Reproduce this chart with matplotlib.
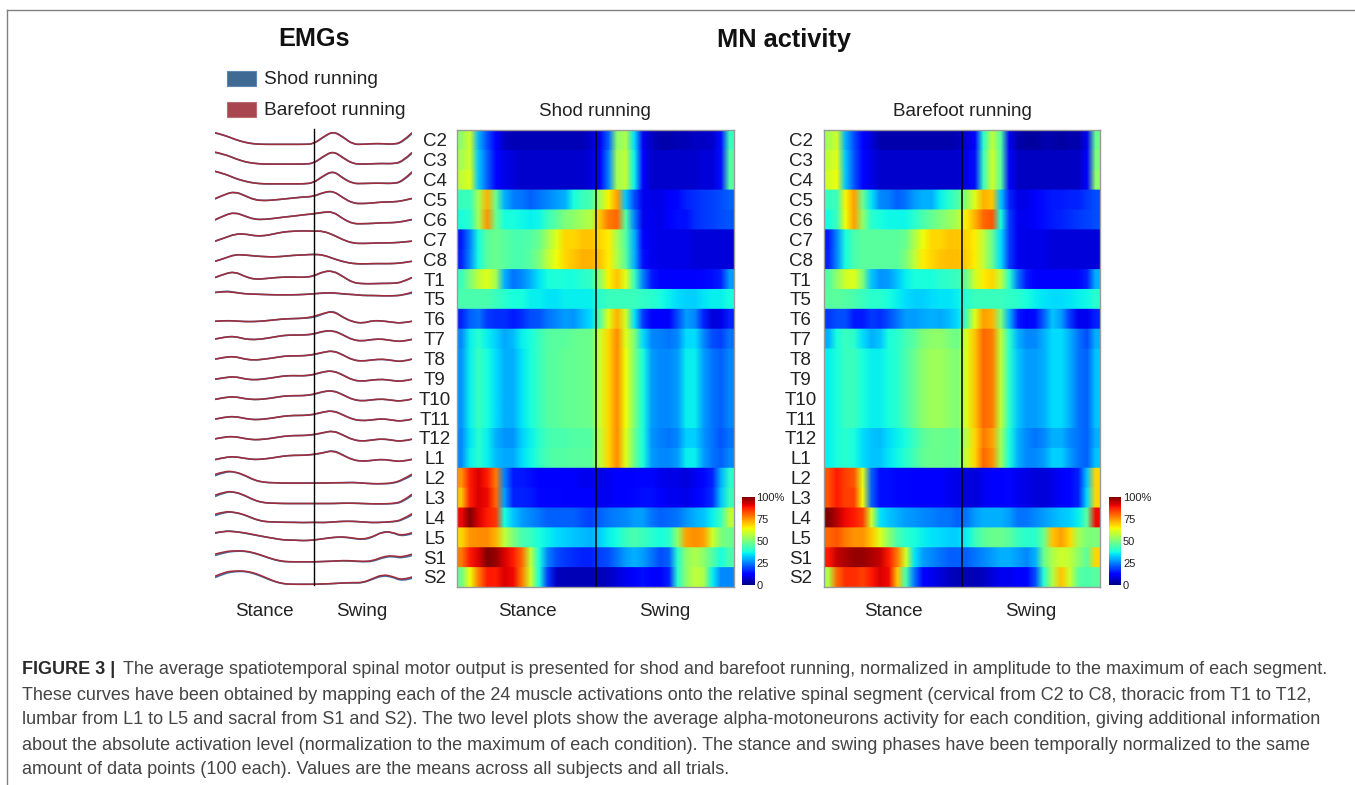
import numpy as np
import matplotlib
matplotlib.use("Agg")
from matplotlib import pyplot as plt
from matplotlib.patches import Rectangle, PathPatch
from matplotlib.path import Path
from matplotlib.lines import Line2D

W, H = 1355, 785

plt.rcParams['font.family'] = ['Liberation Sans', 'DejaVu Sans']

segments = ["C2", "C3", "C4", "C5", "C6", "C7", "C8", "T1", "T5", "T6", "T7", "T8",
            "T9", "T10", "T11", "T12", "L1", "L2", "L3", "L4", "L5", "S1", "S2"]

# MN activity, % of max, 16 columns for stance then 16 for swing
shod_mn = [
    [52, 60, 30, 20, 12, 6, 5, 5, 5, 5, 5, 5, 5, 5, 5, 7, 10, 22, 52, 56, 34, 10, 6, 4, 4, 5, 5, 6, 6, 7, 14, 42],
    [55, 60, 32, 22, 13, 9, 8, 7, 7, 7, 7, 7, 7, 7, 7, 8, 11, 25, 55, 58, 36, 11, 7, 7, 7, 7, 7, 7, 8, 8, 14, 45],
    [58, 62, 32, 22, 13, 9, 8, 7, 7, 7, 7, 7, 7, 7, 7, 8, 11, 25, 55, 58, 36, 11, 7, 7, 7, 7, 7, 7, 8, 8, 14, 45],
    [42, 42, 55, 72, 48, 30, 25, 24, 22, 24, 26, 28, 30, 38, 42, 44, 55, 65, 74, 32, 20, 10, 9, 9, 11, 13, 16, 17, 18, 19, 20, 22],
    [38, 40, 55, 75, 48, 38, 38, 37, 36, 37, 42, 46, 50, 52, 55, 57, 70, 78, 80, 45, 25, 10, 10, 9, 12, 14, 14, 17, 18, 19, 20, 21],
    [15, 25, 38, 46, 48, 46, 44, 44, 45, 48, 55, 62, 68, 68, 70, 70, 68, 66, 55, 45, 30, 12, 10, 9, 9, 9, 9, 8, 8, 8, 8, 8],
    [16, 26, 38, 46, 48, 46, 44, 44, 46, 50, 58, 64, 68, 70, 72, 72, 70, 66, 56, 46, 30, 14, 10, 9, 9, 9, 9, 8, 8, 8, 8, 8],
    [42, 50, 58, 62, 55, 30, 24, 26, 30, 35, 38, 39, 38, 38, 40, 41, 52, 65, 70, 62, 42, 25, 15, 12, 11, 11, 11, 12, 13, 14, 16, 28],
    [44, 44, 44, 44, 42, 40, 38, 38, 36, 36, 35, 35, 36, 36, 36, 36, 40, 42, 42, 42, 42, 41, 40, 38, 36, 34, 33, 33, 35, 36, 36, 38],
    [16, 22, 24, 18, 17, 17, 15, 17, 20, 21, 24, 26, 28, 27, 31, 34, 45, 62, 72, 60, 35, 18, 11, 11, 12, 20, 28, 26, 16, 8, 9, 16],
    [26, 36, 40, 36, 33, 29, 31, 36, 38, 42, 45, 46, 46, 47, 48, 48, 60, 68, 76, 62, 50, 34, 26, 25, 24, 26, 34, 34, 26, 20, 19, 24],
    [27, 36, 42, 38, 34, 30, 30, 35, 38, 42, 45, 46, 47, 47, 48, 48, 60, 68, 76, 64, 50, 38, 28, 26, 26, 28, 36, 36, 28, 24, 22, 26],
    [27, 36, 42, 38, 34, 30, 30, 35, 38, 42, 45, 46, 47, 47, 48, 48, 60, 68, 76, 64, 50, 38, 28, 26, 26, 28, 36, 36, 28, 24, 22, 26],
    [27, 36, 42, 38, 34, 30, 30, 35, 38, 42, 45, 46, 47, 47, 48, 48, 60, 68, 76, 64, 50, 38, 28, 26, 26, 28, 36, 36, 28, 24, 22, 26],
    [27, 36, 42, 38, 34, 30, 30, 35, 38, 42, 45, 46, 47, 47, 48, 48, 60, 68, 76, 64, 50, 38, 28, 26, 26, 28, 36, 36, 28, 24, 22, 26],
    [26, 35, 40, 36, 30, 27, 27, 33, 36, 40, 43, 44, 44, 45, 45, 45, 58, 68, 76, 62, 48, 38, 27, 25, 24, 26, 33, 33, 27, 24, 21, 24],
    [26, 36, 40, 36, 31, 29, 29, 34, 37, 41, 44, 45, 45, 46, 46, 46, 58, 68, 76, 62, 48, 38, 28, 26, 26, 28, 36, 36, 28, 24, 22, 26],
    [75, 88, 92, 88, 78, 25, 15, 15, 14, 12, 12, 12, 11, 11, 10, 10, 9, 10, 11, 11, 12, 13, 13, 10, 9, 9, 8, 10, 13, 16, 30, 40],
    [70, 88, 92, 90, 80, 28, 16, 16, 15, 13, 13, 13, 12, 12, 11, 11, 10, 10, 12, 12, 13, 14, 14, 11, 10, 10, 9, 11, 14, 17, 32, 42],
    [90, 100, 92, 88, 85, 38, 32, 28, 26, 24, 22, 22, 22, 22, 20, 19, 22, 24, 25, 26, 28, 28, 24, 22, 23, 24, 27, 30, 32, 36, 42, 58],
    [68, 75, 76, 76, 72, 58, 50, 44, 42, 38, 36, 34, 33, 32, 31, 30, 33, 36, 38, 42, 44, 42, 40, 38, 40, 52, 74, 76, 74, 60, 50, 48],
    [78, 88, 92, 100, 98, 92, 88, 80, 58, 38, 25, 20, 18, 17, 16, 16, 19, 20, 24, 28, 30, 28, 24, 20, 22, 40, 52, 56, 52, 45, 38, 44],
    [48, 64, 78, 88, 88, 92, 90, 78, 60, 38, 18, 6, 5, 5, 5, 5, 5, 6, 8, 10, 12, 14, 12, 12, 16, 40, 52, 58, 56, 36, 26, 26],
]

barefoot_mn = [
    [55, 60, 30, 20, 12, 8, 4, 4, 4, 4, 4, 4, 4, 4, 4, 5, 8, 12, 40, 58, 45, 10, 4, 3, 3, 4, 4, 3, 4, 4, 10, 48],
    [58, 62, 32, 21, 13, 9, 7, 7, 7, 7, 7, 7, 7, 7, 7, 7, 9, 14, 42, 60, 46, 11, 6, 6, 6, 6, 6, 6, 6, 6, 11, 50],
    [60, 64, 32, 21, 13, 9, 7, 7, 7, 7, 7, 7, 7, 7, 7, 7, 9, 14, 42, 60, 46, 11, 6, 6, 6, 6, 6, 6, 6, 6, 11, 52],
    [42, 42, 65, 74, 48, 35, 26, 25, 22, 24, 28, 30, 30, 36, 40, 44, 52, 62, 72, 70, 32, 16, 9, 9, 11, 14, 15, 15, 16, 16, 18, 20],
    [38, 42, 64, 74, 52, 40, 38, 37, 37, 37, 40, 44, 47, 50, 53, 56, 66, 72, 80, 82, 38, 18, 10, 10, 12, 14, 15, 16, 17, 18, 19, 20],
    [15, 26, 38, 44, 46, 46, 46, 46, 46, 48, 56, 64, 68, 68, 70, 70, 68, 66, 58, 48, 34, 18, 10, 9, 9, 9, 8, 8, 8, 8, 8, 8],
    [16, 26, 38, 44, 46, 46, 46, 46, 46, 50, 58, 66, 68, 70, 71, 71, 69, 66, 58, 48, 34, 18, 10, 9, 9, 9, 8, 8, 8, 8, 8, 8],
    [45, 52, 60, 62, 50, 32, 27, 28, 32, 36, 38, 38, 38, 40, 41, 42, 48, 60, 66, 68, 58, 40, 24, 15, 12, 11, 11, 11, 12, 13, 16, 30],
    [46, 46, 45, 44, 42, 40, 40, 38, 36, 34, 33, 33, 34, 35, 35, 36, 40, 42, 42, 42, 42, 41, 40, 38, 36, 35, 34, 34, 35, 36, 37, 40],
    [18, 20, 20, 15, 15, 18, 17, 20, 24, 28, 28, 29, 30, 29, 31, 34, 44, 62, 74, 72, 50, 30, 15, 12, 14, 22, 32, 28, 18, 10, 10, 16],
    [30, 38, 42, 40, 34, 30, 32, 38, 40, 43, 46, 50, 52, 52, 50, 48, 62, 70, 80, 78, 58, 40, 30, 26, 26, 30, 34, 34, 30, 24, 20, 30],
    [36, 38, 42, 42, 38, 36, 36, 38, 40, 44, 48, 52, 54, 54, 52, 50, 62, 70, 80, 78, 58, 40, 32, 28, 28, 30, 34, 34, 30, 24, 22, 32],
    [36, 38, 42, 42, 38, 36, 36, 38, 40, 44, 48, 52, 54, 54, 52, 50, 62, 70, 80, 78, 58, 40, 32, 28, 28, 30, 34, 34, 30, 24, 22, 32],
    [36, 38, 42, 42, 38, 36, 36, 38, 40, 44, 48, 52, 54, 54, 52, 50, 62, 70, 80, 78, 58, 40, 32, 28, 28, 30, 34, 34, 30, 24, 22, 32],
    [36, 38, 42, 42, 38, 36, 36, 38, 40, 44, 48, 52, 54, 54, 52, 50, 62, 70, 80, 78, 58, 40, 32, 28, 28, 30, 34, 34, 30, 24, 22, 32],
    [36, 38, 40, 38, 34, 32, 31, 34, 36, 38, 42, 46, 48, 48, 47, 47, 58, 68, 78, 74, 54, 38, 30, 26, 24, 26, 30, 30, 26, 24, 22, 30],
    [36, 38, 40, 38, 34, 32, 32, 35, 37, 40, 43, 47, 48, 48, 47, 47, 60, 68, 80, 76, 54, 38, 30, 26, 26, 28, 33, 33, 28, 24, 22, 32],
    [82, 88, 84, 82, 62, 22, 14, 14, 13, 13, 12, 12, 11, 11, 10, 9, 8, 8, 10, 11, 12, 13, 10, 9, 8, 8, 9, 11, 13, 16, 32, 68],
    [82, 88, 84, 84, 64, 22, 14, 14, 13, 13, 12, 12, 11, 11, 10, 9, 8, 8, 10, 11, 12, 13, 10, 9, 8, 8, 9, 11, 13, 16, 34, 68],
    [100, 95, 90, 88, 84, 60, 35, 32, 30, 28, 27, 26, 25, 24, 24, 22, 24, 28, 30, 30, 30, 28, 24, 24, 26, 28, 30, 32, 33, 36, 46, 90],
    [80, 82, 78, 75, 75, 70, 62, 52, 44, 40, 38, 36, 35, 34, 33, 33, 36, 42, 46, 48, 48, 46, 42, 40, 40, 48, 70, 74, 68, 55, 50, 50],
    [88, 94, 96, 98, 98, 96, 94, 88, 78, 60, 35, 28, 26, 24, 22, 22, 22, 24, 26, 28, 30, 30, 28, 26, 30, 48, 56, 60, 58, 52, 46, 68],
    [56, 80, 86, 86, 84, 88, 92, 90, 70, 44, 24, 12, 10, 8, 6, 5, 5, 5, 6, 8, 10, 10, 12, 12, 20, 40, 56, 70, 60, 46, 44, 46],
]

# EMG envelopes, height above each row's baseline, 21 samples over stance + swing
barefoot_emg = [
    [35, 27, 15, 6, 1, 0, 0, 0, 0, 0, 1, 23, 39, 21, 0, 0, 2, 2, 0, 6, 35],
    [36, 29, 17, 7, 2, 0, 0, 0, 0, 0, 2, 24, 39, 18, 1, 0, 1, 2, 1, 7, 35],
    [38, 30, 17, 8, 2, 0, 0, 0, 0, 0, 3, 25, 39, 16, 1, 1, 2, 2, 1, 7, 36],
    [15, 28, 36, 24, 11, 9, 11, 14, 17, 20, 22, 34, 38, 17, 1, 0, 2, 5, 5, 8, 16],
    [11, 25, 33, 22, 12, 12, 15, 19, 22, 26, 29, 34, 35, 13, -1, -1, 0, 2, 2, 5, 12],
    [6, 16, 27, 28, 22, 22, 28, 34, 36, 37, 36, 36, 25, 10, 0, -1, 0, 1, 1, 3, 6],
    [5, 14, 25, 24, 21, 19, 18, 20, 23, 24, 26, 24, 13, 4, -2, -3, -2, -2, -2, 0, 5],
    [16, 27, 33, 19, 10, 12, 15, 17, 17, 16, 20, 34, 35, 18, 0, -3, -3, -2, -2, 1, 16],
    [30, 33, 30, 26, 25, 24, 23, 23, 23, 24, 26, 29, 29, 26, 24, 21, 21, 20, 20, 21, 31],
    [3, 5, 4, 2, 2, 4, 7, 10, 11, 12, 17, 27, 33, 14, 1, -3, 5, 4, 0, -3, 3],
    [9, 15, 17, 9, 7, 10, 15, 20, 21, 21, 24, 33, 34, 21, 6, 3, 8, 9, 4, 1, 8],
    [8, 14, 16, 8, 5, 8, 12, 17, 18, 18, 22, 29, 33, 20, 5, 2, 6, 8, 4, 0, 8],
    [7, 12, 15, 8, 5, 8, 12, 17, 18, 17, 21, 30, 32, 19, 4, 1, 5, 7, 3, 0, 7],
    [6, 12, 14, 8, 5, 7, 11, 16, 17, 17, 21, 30, 32, 19, 5, 1, 5, 7, 3, 0, 7],
    [6, 12, 14, 8, 4, 6, 10, 15, 17, 17, 20, 28, 31, 18, 5, 1, 4, 7, 3, -1, 6],
    [6, 12, 13, 7, 3, 5, 9, 14, 16, 16, 19, 25, 30, 17, 3, -1, 3, 6, 2, -2, 5],
    [3, 10, 12, 7, 3, 5, 9, 14, 16, 16, 19, 24, 30, 16, 2, -2, 1, 4, 0, -3, 4],
    [18, 28, 26, 16, 1, -6, -7, -8, -8, -8, -8, -8, -7, -7, -6, -8, -10, -10, -8, 1, 19],
    [15, 26, 25, 15, 0, -8, -9, -10, -10, -10, -10, -10, -10, -9, -9, -10, -11, -11, -10, -5, 18],
    [17, 26, 23, 16, 3, -5, -6, -7, -7, -8, -7, -8, -6, -4, -4, -6, -8, -7, -5, 0, 19],
    [21, 26, 24, 21, 15, 9, 4, -1, -1, -3, -1, 3, 7, 9, 5, 1, 9, 23, 23, 11, 21],
    [16, 24, 26, 26, 20, 10, 0, -6, -7, -7, -7, -6, -5, -3, -4, -6, -4, 8, 12, 6, 16],
    [9, 22, 25, 25, 19, 7, -6, -14, -15, -15, -15, -14, -13, -11, -10, -10, 2, 14, 9, -3, 7],
]

shod_emg = [
    [34, 27, 15, 6, 1, 0, 0, 0, 0, 0, 1, 21, 39, 23, 0, 0, 2, 2, 0, 4, 32],
    [35, 29, 17, 7, 2, 0, 0, 0, 0, 0, 2, 22, 39, 20, 1, 0, 1, 2, 1, 5, 32],
    [37, 30, 17, 8, 2, 0, 0, 0, 0, 0, 3, 23, 39, 18, 1, 1, 2, 2, 1, 5, 33],
    [14, 28, 36, 25, 12, 9, 11, 14, 17, 20, 21, 33, 38, 18, 1, 0, 2, 5, 5, 8, 15],
    [10, 25, 33, 23, 12, 12, 15, 19, 22, 26, 28, 33, 35, 14, -1, -1, 0, 2, 2, 5, 11],
    [6, 16, 27, 28, 22, 22, 28, 34, 36, 37, 36, 36, 25, 10, 0, -1, 0, 1, 1, 3, 6],
    [5, 14, 25, 24, 21, 19, 18, 20, 23, 24, 26, 24, 13, 4, -2, -3, -2, -2, -2, 0, 5],
    [15, 27, 33, 19, 10, 12, 15, 17, 17, 16, 19, 33, 36, 19, 0, -3, -3, -2, -2, 1, 15],
    [30, 35, 31, 26, 25, 24, 23, 23, 23, 24, 26, 28, 29, 25, 24, 21, 21, 20, 20, 22, 28],
    [3, 5, 4, 2, 2, 4, 7, 10, 11, 12, 14, 25, 35, 15, 1, -3, 5, 4, 0, -3, 3],
    [9, 15, 17, 9, 7, 10, 15, 20, 21, 21, 23, 32, 35, 22, 6, 3, 8, 9, 4, 1, 8],
    [8, 14, 16, 8, 5, 8, 12, 17, 18, 18, 21, 28, 34, 21, 5, 2, 6, 8, 4, 0, 8],
    [7, 12, 15, 8, 5, 8, 12, 17, 18, 17, 20, 29, 33, 20, 4, 1, 5, 7, 3, 0, 7],
    [6, 12, 14, 8, 5, 7, 11, 16, 17, 17, 20, 29, 33, 20, 5, 1, 5, 7, 3, 0, 7],
    [6, 12, 14, 8, 4, 6, 10, 15, 17, 17, 19, 27, 32, 19, 5, 1, 4, 7, 3, -1, 6],
    [6, 12, 13, 7, 3, 5, 9, 14, 16, 16, 18, 24, 31, 18, 3, -1, 3, 6, 2, -2, 5],
    [3, 10, 12, 7, 3, 5, 9, 14, 16, 16, 18, 23, 32, 17, 2, -2, 1, 4, 0, -3, 4],
    [14, 26, 26, 15, 0, -6, -7, -8, -8, -8, -8, -8, -7, -7, -6, -8, -10, -10, -9, -1, 15],
    [11, 24, 25, 14, -1, -8, -9, -10, -10, -10, -10, -10, -10, -9, -9, -10, -11, -11, -11, -7, 14],
    [13, 24, 23, 15, 2, -5, -6, -7, -7, -8, -7, -8, -6, -4, -4, -6, -8, -7, -6, -2, 15],
    [19, 27, 25, 20, 14, 9, 4, -1, -1, -3, -1, 3, 7, 8, 4, 0, 7, 25, 22, 9, 18],
    [12, 21, 25, 25, 19, 9, -1, -7, -7, -7, -7, -6, -5, -4, -5, -7, -6, 5, 10, 3, 12],
    [5, 18, 23, 24, 17, 5, -7, -14, -15, -15, -15, -14, -13, -11, -11, -11, 0, 11, 7, -6, 3],
]

caption_bold = "FIGURE 3 |"
caption_lines = [
    "The average spatiotemporal spinal motor output is presented for shod and barefoot running, normalized in amplitude to the maximum of each segment.",
    "These curves have been obtained by mapping each of the 24 muscle activations onto the relative spinal segment (cervical from C2 to C8, thoracic from T1 to T12,",
    "lumbar from L1 to L5 and sacral from S1 and S2). The two level plots show the average alpha-motoneurons activity for each condition, giving additional information",
    "about the absolute activation level (normalization to the maximum of each condition). The stance and swing phases have been temporally normalized to the same",
    "amount of data points (100 each). Values are the means across all subjects and all trials.",
]


def axes_px(fig, left, top, right, bottom):
    return fig.add_axes([left / W, 1 - bottom / H, (right - left) / W, (bottom - top) / H])


def put_text(fig, x, y, s, **kw):
    kw.setdefault('ha', 'center')
    kw.setdefault('va', 'center')
    return fig.text(x / W, 1 - y / H, s, **kw)


def smooth_curve(xs, ys, color):
    # quadratic path through the samples so the envelopes don't look angular
    pts = np.column_stack([xs, ys])
    verts = [pts[0]]
    codes = [Path.MOVETO]
    for i in range(1, len(pts) - 1):
        end = pts[i + 1] if i == len(pts) - 2 else (pts[i] + pts[i + 1]) / 2
        verts += [pts[i], end]
        codes += [Path.CURVE3, Path.CURVE3]
    return PathPatch(Path(verts, codes), fill=False, edgecolor=color, lw=1.15)


def draw_map(fig, values, left, right, label_x, cbar_left):
    ax = axes_px(fig, left, 130, right, 587)
    grid = np.repeat(np.array(values, dtype=float), 20, axis=0)
    im = ax.imshow(grid, cmap='jet', vmin=0, vmax=100, aspect='auto',
                   interpolation='bilinear', extent=(0, 200, len(values), 0))
    ax.plot([100, 100], [0, len(values)], color='black', lw=1.1)
    ax.set_xlim(0, 200)
    ax.set_ylim(len(values), 0)
    ax.set_xticks([])
    ax.set_yticks([])
    for s in ax.spines.values():
        s.set_color('#9a9a9a')
        s.set_linewidth(1.0)

    for i, name in enumerate(segments):
        put_text(fig, label_x, 142 + i * 19.86, name, fontsize=13.5, color='#222222')

    cax = axes_px(fig, cbar_left, 497, cbar_left + 12.5, 585)
    cb = fig.colorbar(im, cax=cax, ticks=[0, 25, 50, 75, 100])
    cb.ax.set_yticklabels(['0', '25', '50', '75', '100%'], fontsize=8, color='#222222')
    cb.ax.tick_params(length=0, pad=1.5)
    cb.outline.set_visible(False)


fig = plt.figure(figsize=(W / 100, H / 100), dpi=100, facecolor='white')

# EMG column, one row unit is 59.3 height units
ax = axes_px(fig, 215, 124.56, 412, 599.04)
xs = np.linspace(0, 200, 21)
for i in range(len(segments)):
    ax.add_patch(smooth_curve(xs, i - np.array(shod_emg[i]) / 59.3, '#3d6f9f'))
    ax.add_patch(smooth_curve(xs, i - np.array(barefoot_emg[i]) / 59.3, '#a02c3c'))
ax.plot([100, 100], [-0.775, 22.29], color='black', lw=1.0)
ax.set_xlim(0, 200)
ax.set_ylim(23, -1)
ax.axis('off')

draw_map(fig, shod_mn, 457, 734, 435, 742)
draw_map(fig, barefoot_mn, 824, 1100, 801, 1108.5)

put_text(fig, 313.5, 39.5, "EMGs", fontsize=18.2, fontweight='bold', color='#111111')
put_text(fig, 784, 39.5, "MN activity", fontsize=18.3, fontweight='bold', color='#111111')

# legend swatches
for y, col, edge, name in [(71, '#3f6a94', '#5c86b4', "Shod running"), (102, '#a8454f', '#bd6a70', "Barefoot running")]:
    fig.add_artist(Rectangle((226.5 / W, 1 - (y + 14.5) / H), 29.5 / W, 14.5 / H, transform=fig.transFigure,
                             facecolor=col, edgecolor=edge, lw=0.8))
    put_text(fig, 264, y + 8.5, name, fontsize=13.8, ha='left', color='#222222')

put_text(fig, 595, 111, "Shod running", fontsize=13.6, color='#222222')
put_text(fig, 962, 111, "Barefoot running", fontsize=13.6, color='#222222')

for x, name in [(264, "Stance"), (362, "Swing"), (527, "Stance"), (665, "Swing"), (893, "Stance"), (1031, "Swing")]:
    put_text(fig, x, 612, name, fontsize=13.6, color='#222222')

# frame is only open lines along the top and left
for xd, yd in [([7, 1355], [10, 10]), ([7, 7], [10, 785])]:
    fig.add_artist(Line2D(np.array(xd) / W, 1 - np.array(yd) / H, transform=fig.transFigure,
                          color='#808080', lw=1.0))

cap_y = [670, 695, 720, 745, 770]
put_text(fig, 22, cap_y[0], caption_bold, fontsize=13, fontweight='bold', ha='left', color='#2a2a2a')
put_text(fig, 123, cap_y[0], caption_lines[0], fontsize=13, ha='left', color='#444444')
for y, line in zip(cap_y[1:], caption_lines[1:]):
    put_text(fig, 22, y, line, fontsize=13, ha='left', color='#444444')

fig.savefig("out.png", dpi=100)
